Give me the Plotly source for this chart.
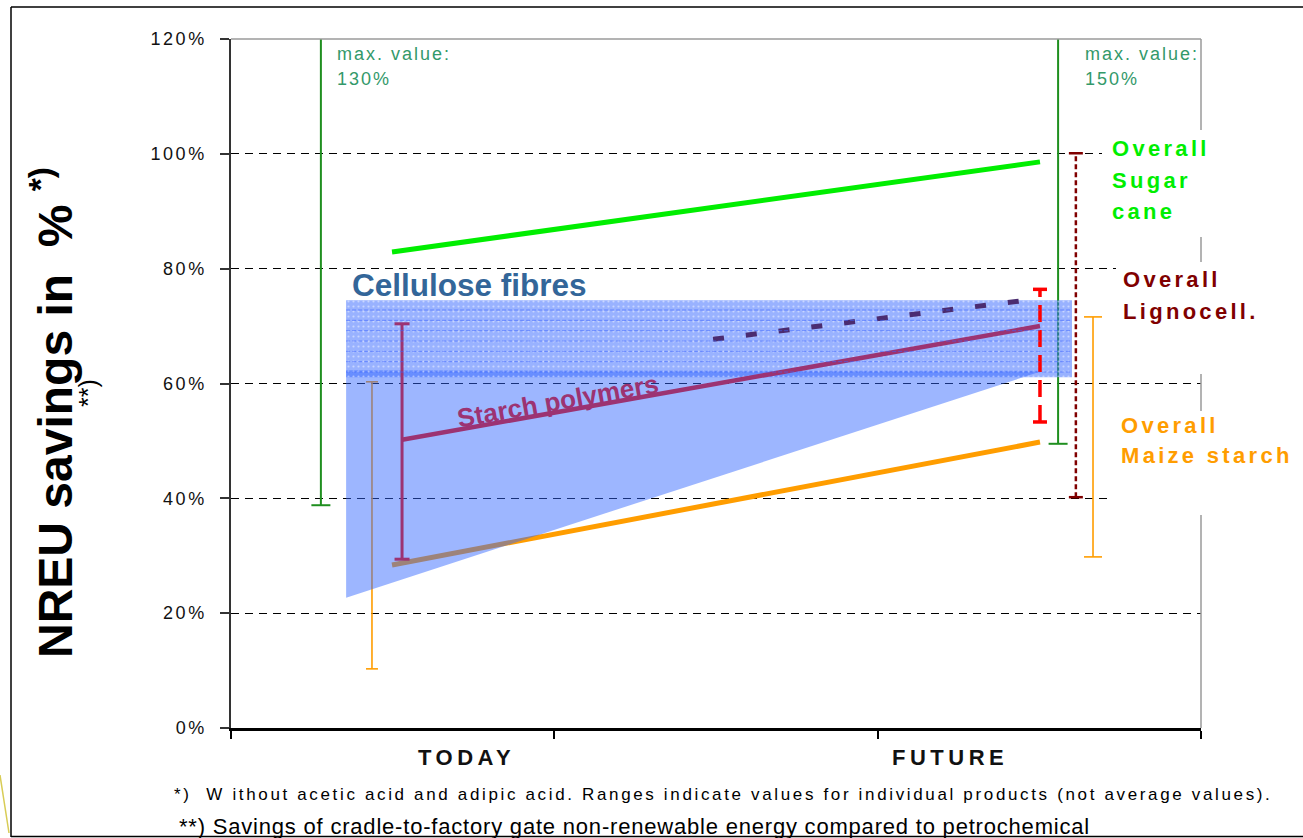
import numpy as np
import plotly.graph_objects as go

# ---------------------------------------------------------------- data ----
# Percent axis
y_ticks = [0, 20, 40, 60, 80, 100, 120]
y_tick_labels = ["0%", "20%", "40%", "60%", "80%", "100%", "120%"]
y_range = [0, 120]

# Horizontal axis runs 0..3 with ticks at every unit
x_ticks = [0, 1, 2, 3]
x_range = [0, 3]
period_labels = ["TODAY", "FUTURE"]
period_label_x = [0.727, 2.224]

# Trend lines (today -> future), NREU savings in %
sugar_cane_x = [0.498, 2.502]
sugar_cane_y = [82.9, 98.6]
maize_starch_x = [0.498, 2.502]
maize_starch_y = [28.4, 49.8]
starch_polymers_x = [0.529, 2.502]
starch_polymers_y = [50.2, 70.0]
lignocell_future_x = [1.491, 2.502]
lignocell_future_y = [67.7, 74.8]

# Ranges for individual products: (x, low, high)
sugar_range_today = (0.278, 38.8, 130.0)
maize_range_today = (0.436, 10.3, 60.3)
starch_range_today = (0.529, 29.4, 70.4)
starch_range_future = (2.502, 53.3, 76.4)
sugar_range_future = (2.558, 49.5, 150.0)
lignocell_range_future = (2.613, 40.2, 100.1)
maize_range_future = (2.666, 29.8, 71.6)

# Cellulose fibres: band of future values and the spread of today's values
cellulose_band_x = [0.356, 2.601]
cellulose_band_y = [61.1, 74.5]
cellulose_wedge_x = [0.356, 0.356, 2.511]
cellulose_wedge_y = [22.7, 62.3, 62.2]

# --------------------------------------------------------------- style ----
FONT = "Liberation Sans, Arial, sans-serif"
W, H = 1303, 838
ML, MR, MT, MB = 231, 102, 39, 110
PW = W - ML - MR          # plot width in px
PH = H - MT - MB          # plot height in px
PX_PER_X = PW / (x_range[1] - x_range[0])

GREEN_BAR = "#1F8F1F"
ORANGE = "#FF9D00"
MAGENTA = "#9C3372"
BRIGHT_GREEN = "#00EE00"
DARK_RED = "#800000"
LABEL_GREEN = "#33996A"


def spaced(text, px):
    return f'<span style="letter-spacing:{px}px">{text}</span>'


def px_to_paper(px_x=None, px_y=None):
    out = []
    if px_x is not None:
        out.append((px_x - ML) / PW)
    if px_y is not None:
        out.append((H - MB - px_y) / PH)
    return out[0] if len(out) == 1 else out


fig = go.Figure()


def range_bar(rng, color, width, cap_px, dash="solid", caps=("lo", "hi")):
    x, lo, hi = rng
    fig.add_trace(go.Scatter(
        x=[x, x], y=[lo, hi], mode="lines",
        line=dict(color=color, width=width, dash=dash),
        hoverinfo="skip", showlegend=False))
    half = cap_px / 2 / PX_PER_X
    cx, cy = [], []
    for which in caps:
        v = lo if which == "lo" else hi
        cx += [x - half, x + half, None]
        cy += [v, v, None]
    fig.add_trace(go.Scatter(
        x=cx, y=cy, mode="lines",
        line=dict(color=color, width=width),
        hoverinfo="skip", showlegend=False))


# Elements that sit underneath the translucent cellulose area
range_bar(maize_range_today, ORANGE, 1.6, 12)
fig.add_trace(go.Scatter(x=maize_starch_x, y=maize_starch_y, mode="lines",
                         line=dict(color=ORANGE, width=5),
                         hoverinfo="skip", showlegend=False))
range_bar(sugar_range_today, GREEN_BAR, 2, 19)
range_bar(sugar_range_future, GREEN_BAR, 2, 19)

# Cellulose fibres areas
fig.add_trace(go.Scatter(
    x=cellulose_wedge_x + [cellulose_wedge_x[0]],
    y=cellulose_wedge_y + [cellulose_wedge_y[0]],
    mode="lines", fill="toself", fillcolor="rgba(51,102,255,0.48)",
    line=dict(width=0), hoverinfo="skip", showlegend=False))
bx0, bx1 = cellulose_band_x
by0, by1 = cellulose_band_y
fig.add_trace(go.Scatter(
    x=[bx0, bx1, bx1, bx0, bx0], y=[by0, by0, by1, by1, by0],
    mode="lines", fill="toself", fillcolor="rgba(51,102,255,0.5)",
    fillpattern=dict(shape=".", bgcolor="rgba(51,102,255,0.5)",
                     fgcolor="rgba(255,255,255,0.9)", size=5, solidity=0.15),
    line=dict(width=0), hoverinfo="skip", showlegend=False))

# Starch polymers
range_bar(starch_range_today, MAGENTA, 3, 15)
fig.add_trace(go.Scatter(x=starch_polymers_x, y=starch_polymers_y, mode="lines",
                         line=dict(color=MAGENTA, width=4.5),
                         hoverinfo="skip", showlegend=False))

# Sugar cane
fig.add_trace(go.Scatter(x=sugar_cane_x, y=sugar_cane_y, mode="lines",
                         line=dict(color=BRIGHT_GREEN, width=5),
                         hoverinfo="skip", showlegend=False))

# Lignocellulosics, future estimate
fig.add_trace(go.Scatter(x=lignocell_future_x, y=lignocell_future_y, mode="lines",
                         line=dict(color="#4B2C70", width=5, dash="11px,22px"),
                         hoverinfo="skip", showlegend=False))
range_bar(starch_range_future, "#FF0000", 3.5, 14, dash="17px,8px")
range_bar(lignocell_range_future, DARK_RED, 2.5, 14, dash="5px,3px")
range_bar(maize_range_future, ORANGE, 1.6, 18)

# ------------------------------------------------------------- shapes ----
shapes = []
# faint dashed stripes inside the cellulose band
for lvl in np.arange(by0 + 0.9, by1, 1.8):
    shapes.append(dict(type="line", xref="x", yref="y", x0=bx0, x1=bx1,
                       y0=lvl, y1=lvl, layer="above",
                       line=dict(color="rgba(60,100,255,0.6)", width=1,
                                 dash="4px,2px")))
# plot frame (top and right edges)
shapes.append(dict(type="line", xref="paper", yref="paper", x0=0, x1=1, y0=1, y1=1,
                   line=dict(color="#9A9A9A", width=1.5), layer="above"))
shapes.append(dict(type="line", xref="paper", yref="paper", x0=1, x1=1, y0=0, y1=1,
                   line=dict(color="#9A9A9A", width=1.5), layer="above"))
# white panels behind the right-hand labels
for (lx, ty, by) in [(1102, 130, 237), (1116, 262, 374), (1112, 411, 515)]:
    x0 = px_to_paper(px_x=lx)
    x1 = px_to_paper(px_x=1300)
    y0 = px_to_paper(px_y=by)
    y1 = px_to_paper(px_y=ty)
    shapes.append(dict(type="rect", xref="paper", yref="paper",
                       x0=x0, x1=x1, y0=y0, y1=y1, layer="above",
                       fillcolor="white", line=dict(width=0)))


# slide frame
def frame_line(x0, y0, x1, y1, color="black", width=1.5):
    px0, py0 = px_to_paper(px_x=x0, px_y=y0)
    px1, py1 = px_to_paper(px_x=x1, px_y=y1)
    shapes.append(dict(type="line", xref="paper", yref="paper",
                       x0=px0, y0=py0, x1=px1, y1=py1, layer="above",
                       line=dict(color=color, width=width)))


frame_line(11, 7, 1303, 7)
frame_line(11, 7, 11, 837)
frame_line(11, 836.5, 1303, 836.5)
frame_line(0, 775, 9, 833, color="#D8CC55", width=1.5)

# --------------------------------------------------------- annotations ----
ann = []


def text(x, y, s, size, color, bold=False, xanchor="left", yanchor="middle",
         xref="x", yref="y", angle=0, spacing=0):
    body = f"<b>{s}</b>" if bold else s
    if spacing:
        body = spaced(body, spacing)
    ann.append(dict(x=x, y=y, xref=xref, yref=yref, text=body, showarrow=False,
                    xanchor=xanchor, yanchor=yanchor, textangle=angle,
                    font=dict(family=FONT, size=size, color=color)))


def yv(px_y):
    return (H - MB - px_y) / PH * (y_range[1] - y_range[0])


def xv(px_x):
    return (px_x - ML) / PX_PER_X


text(xv(350), yv(285), "Cellulose fibres", 31.5, "#336699", bold=True)
text(xv(558), yv(401), "Starch polymers", 26, MAGENTA, bold=True,
     xanchor="center", angle=-10)

# maximum values of clipped ranges
for px_x, val in [(335, "130%"), (1083, "150%")]:
    text(xv(px_x), yv(54), "max. value:", 18, LABEL_GREEN, spacing=2)
    text(xv(px_x), yv(79), val, 18, LABEL_GREEN, spacing=2)

# right-hand group labels
for px_x, lines, color in [
    (1110, [("Overall", 148), ("Sugar", 180), ("cane", 211)], BRIGHT_GREEN),
    (1121, [("Overall", 279), ("Lignocell.", 311)], DARK_RED),
    (1119, [("Overall", 425), ("Maize starch", 455)], ORANGE),
]:
    for s, py in lines:
        text(xv(px_x), yv(py), s, 22, color, bold=True, spacing=3.3)

# period labels
for lx, lab in zip(period_label_x, period_labels):
    text(lx, px_to_paper(px_y=757), lab, 22, "#111111", bold=True,
         xanchor="center", yref="paper", spacing=4.5)

# axis title
text(px_to_paper(px_x=52), px_to_paper(px_y=413),
     "NREU savings in&nbsp; %&nbsp;<sup>*)</sup>", 48, "black", bold=True,
     xanchor="center", xref="paper", yref="paper", angle=-90)
text(px_to_paper(px_x=88), px_to_paper(px_y=393), "**)", 25, "black",
     xanchor="center", xref="paper", yref="paper", angle=-90)

# footnotes
text(px_to_paper(px_x=172), px_to_paper(px_y=795),
     "*)&nbsp; W ithout acetic acid and adipic acid. Ranges indicate values for "
     "individual products (not average values).", 17, "black",
     xref="paper", yref="paper", spacing=2.65)
text(px_to_paper(px_x=177), px_to_paper(px_y=826),
     "**) Savings of cradle-to-factory gate non-renewable energy compared to "
     "petrochemical", 22, "black", xref="paper", yref="paper", spacing=0.8)

# -------------------------------------------------------------- layout ----
fig.update_layout(
    width=W, height=H, autosize=False,
    margin=dict(l=ML, r=MR, t=MT, b=MB, pad=0),
    paper_bgcolor="white", plot_bgcolor="white",
    showlegend=False,
    shapes=shapes, annotations=ann,
    xaxis=dict(range=x_range, tickvals=x_ticks, showticklabels=False,
               ticks="outside", ticklen=8, tickwidth=2, tickcolor="black",
               showline=True, linecolor="black", linewidth=3,
               showgrid=False, zeroline=False, fixedrange=True),
    yaxis=dict(range=y_range, tickvals=y_ticks,
               ticktext=[spaced(t, 2.5) for t in y_tick_labels],
               tickfont=dict(family=FONT, size=18, color="#111111"),
               ticks="outside", ticklen=9, tickwidth=1.5, tickcolor="#333333",
               ticklabelstandoff=10,
               showline=True, linecolor="#333333", linewidth=1.5,
               showgrid=True, gridcolor="black", gridwidth=1,
               griddash="8px,6px", zeroline=False, fixedrange=True),
)

fig.write_html("out.html")
